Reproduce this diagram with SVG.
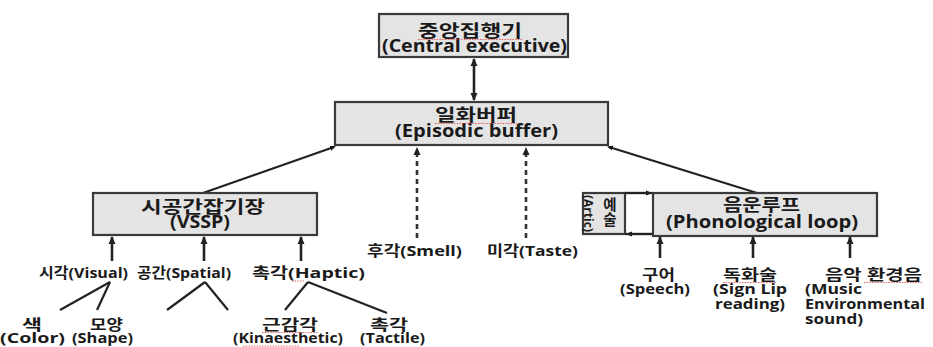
<svg xmlns="http://www.w3.org/2000/svg" width="933" height="347" viewBox="0 0 933 347">
<style>
  .box { fill: #e4e4e4; stroke: #3a3a3a; stroke-width: 2.2; }
  .t { font-family: "Open Sans", "Noto Sans CJK KR", sans-serif; font-weight: bold; fill: #1a1a1a; }
  .bt { font-size: 17px; text-anchor: middle; }
  .lt { font-size: 14.5px; }
  .c { text-anchor: middle; }
  .ln { stroke: #222; stroke-width: 2.2; fill: none; }
  .ar { stroke: #222; stroke-width: 2.6; fill: none; }
  .dash { stroke: #333; stroke-width: 2.6; fill: none; stroke-dasharray: 5 4; }
  .sq { stroke: #e05050; stroke-width: 0.9; fill: none; stroke-dasharray: 1.5 1.2; }
</style>
<defs>
  <marker id="ah" viewBox="0 0 8 8" refX="7" refY="4" markerWidth="8" markerHeight="8" markerUnits="userSpaceOnUse" orient="auto-start-reverse">
    <path d="M0,0.5 L8,4 L0,7.5 z" fill="#222"/>
  </marker>
  <marker id="dot" viewBox="0 0 6 6" refX="4" refY="3" markerWidth="6" markerHeight="6" markerUnits="userSpaceOnUse" orient="auto">
    <path d="M0,0.5 L6,3 L0,5.5 z" fill="#111"/>
  </marker>
</defs>

<g id="connectors">
  <line class="ar" x1="474" y1="59" x2="474" y2="100" marker-start="url(#ah)" marker-end="url(#ah)"/>
  <line class="ln" x1="203" y1="193" x2="334" y2="147" marker-end="url(#dot)"/>
  <line class="ln" x1="757" y1="193" x2="609" y2="147" marker-end="url(#dot)"/>
  <line class="dash" x1="417" y1="238" x2="417" y2="148" marker-end="url(#ah)"/>
  <line class="dash" x1="526" y1="238" x2="526" y2="148" marker-end="url(#ah)"/>
  <line class="ar" x1="112" y1="261" x2="112" y2="237" marker-end="url(#ah)"/>
  <line class="ar" x1="204" y1="261" x2="204" y2="237" marker-end="url(#ah)"/>
  <line class="ar" x1="301" y1="261" x2="301" y2="237" marker-end="url(#ah)"/>
  <line class="ar" x1="660" y1="258" x2="660" y2="237" marker-end="url(#ah)"/>
  <line class="ar" x1="753" y1="258" x2="753" y2="237" marker-end="url(#ah)"/>
  <line class="ar" x1="850" y1="258" x2="850" y2="237" marker-end="url(#ah)"/>
  <line class="ln" x1="625" y1="193" x2="650" y2="193" marker-end="url(#dot)"/>
  <line class="ln" x1="653" y1="234" x2="628" y2="234" marker-end="url(#dot)"/>
  <polyline class="ln" points="110,282 60,310"/>
  <polyline class="ln" points="110,282 97,310"/>
  <polyline class="ln" points="205,282 167,310"/>
  <polyline class="ln" points="205,282 228,310"/>
  <polyline class="ln" points="308,282 285,310"/>
  <polyline class="ln" points="308,282 387,313"/>
</g>

<g id="central-executive">
  <rect class="box" x="379" y="14" width="189" height="43"/>
  <text class="t bt" x="470" y="37" textLength="104" lengthAdjust="spacingAndGlyphs">중앙집행기</text>
  <text class="t bt" x="474.5" y="52" textLength="185" lengthAdjust="spacingAndGlyphs">(Central executive)</text>
  <path class="sq" d="M418,39.5 L522,39.5"/>
</g>

<g id="episodic-buffer">
  <rect class="box" x="335" y="102" width="273" height="43"/>
  <text class="t bt" x="476" y="121" textLength="82" lengthAdjust="spacingAndGlyphs">일화버퍼</text>
  <text class="t bt" x="476.5" y="137" textLength="163" lengthAdjust="spacingAndGlyphs">(Episodic buffer)</text>
  <path class="sq" d="M435,123.5 L517,123.5"/>
</g>

<g id="vssp">
  <rect class="box" x="93" y="193" width="224" height="42"/>
  <text class="t bt" x="203" y="213" textLength="124" lengthAdjust="spacingAndGlyphs">시공간잡기장</text>
  <text class="t bt" x="200" y="228" textLength="60" lengthAdjust="spacingAndGlyphs">(VSSP)</text>
</g>

<g id="artic">
  <rect class="box" x="583" y="193" width="42" height="41"/>
  <text class="t" font-size="12.5" text-anchor="middle" transform="translate(583.5,213.5) rotate(90)" textLength="37" lengthAdjust="spacingAndGlyphs">(Artic)</text>
  <text class="t lt c" x="610" y="210">예</text>
  <text class="t lt c" x="610" y="225">술</text>
</g>

<g id="loop-gap">
  <line class="ln" x1="625" y1="193" x2="653" y2="193"/>
  <line class="ln" x1="625" y1="234" x2="653" y2="234"/>
</g>

<g id="phonological-loop">
  <rect class="box" x="653" y="193" width="224" height="43"/>
  <text class="t bt" x="761.5" y="211" textLength="77" lengthAdjust="spacingAndGlyphs">음운루프</text>
  <text class="t bt" x="762" y="228" textLength="192" lengthAdjust="spacingAndGlyphs">(Phonological loop)</text>
</g>

<g id="visual"><text class="t lt c" x="83.5" y="278" textLength="89" lengthAdjust="spacingAndGlyphs">시각(Visual)</text></g>
<g id="spatial"><text class="t lt c" x="184" y="278" textLength="94" lengthAdjust="spacingAndGlyphs">공간(Spatial)</text></g>
<g id="haptic"><text class="t lt c" x="308.5" y="278" textLength="113" lengthAdjust="spacingAndGlyphs">촉각(Haptic)</text><path class="sq" d="M292,281 L304,281"/></g>

<g id="color"><text class="t lt c" x="32" y="330" textLength="20" lengthAdjust="spacingAndGlyphs">색</text><text class="t lt c" x="32.5" y="343" textLength="65" lengthAdjust="spacingAndGlyphs">(Color)</text></g>
<g id="shape"><text class="t lt c" x="106.5" y="330" textLength="33" lengthAdjust="spacingAndGlyphs">모양</text><text class="t lt c" x="102.5" y="343" textLength="61" lengthAdjust="spacingAndGlyphs">(Shape)</text></g>
<g id="kinaesthetic"><text class="t lt c" x="290" y="330" textLength="56" lengthAdjust="spacingAndGlyphs">근감각</text><text class="t lt c" x="288" y="343" textLength="110" lengthAdjust="spacingAndGlyphs">(Kinaesthetic)</text><path class="sq" d="M262,332.5 L318,332.5"/><path class="sq" d="M243,346 L300,346"/></g>
<g id="tactile"><text class="t lt c" x="389" y="330" textLength="38" lengthAdjust="spacingAndGlyphs">촉각</text><text class="t lt c" x="392.5" y="343" textLength="65" lengthAdjust="spacingAndGlyphs">(Tactile)</text></g>

<g id="smell"><text class="t lt c" x="414.5" y="256" textLength="95" lengthAdjust="spacingAndGlyphs">후각(Smell)</text></g>
<g id="taste"><text class="t lt c" x="532.5" y="256" textLength="91" lengthAdjust="spacingAndGlyphs">미각(Taste)</text></g>

<g id="speech"><text class="t lt c" x="658.5" y="280" textLength="33" lengthAdjust="spacingAndGlyphs">구어</text><text class="t lt c" x="655" y="294" textLength="70" lengthAdjust="spacingAndGlyphs">(Speech)</text></g>
<g id="sign-lip"><text class="t lt c" x="750" y="280" textLength="54" lengthAdjust="spacingAndGlyphs">독화술</text><text class="t lt c" x="750" y="294" textLength="74" lengthAdjust="spacingAndGlyphs">(Sign Lip</text><text class="t lt c" x="750" y="309" textLength="70" lengthAdjust="spacingAndGlyphs">reading)</text><path class="sq" d="M723,282.5 L777,282.5"/></g>
<g id="music"><text class="t lt" x="825" y="280" textLength="97" lengthAdjust="spacingAndGlyphs">음악 환경음</text><text class="t lt" x="805" y="294" textLength="57" lengthAdjust="spacingAndGlyphs">(Music</text><text class="t lt" x="805" y="309" textLength="120" lengthAdjust="spacingAndGlyphs">Environmental</text><text class="t lt" x="805" y="324" textLength="58" lengthAdjust="spacingAndGlyphs">sound)</text><path class="sq" d="M864,282.5 L922,282.5"/></g>
</svg>
